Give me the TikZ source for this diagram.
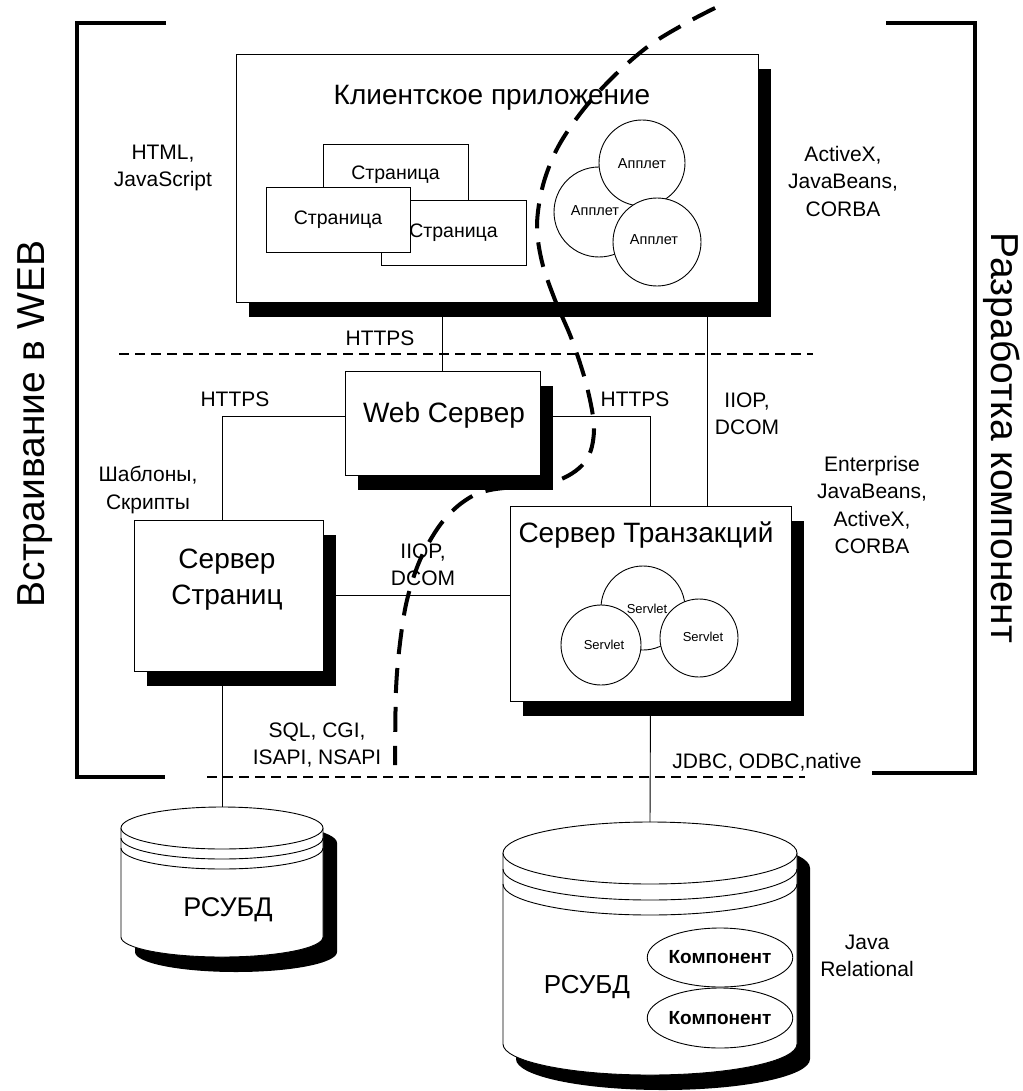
\documentclass[tikz,border=0pt]{standalone}
\usepackage{fontspec}
\setmainfont{Liberation Sans}
\usetikzlibrary{shadows,shapes.geometric}

\begin{document}
\begin{tikzpicture}[x=1pt,y=-1pt,
  thin/.style={line width=0.9pt},
  shadowed/.style={drop shadow={shadow xshift=13pt,shadow yshift=-15pt,fill=black,opacity=1}},
  box/.style={draw,fill=white,thin,shadowed,inner sep=0pt},
  pagebox/.style={draw,fill=white,thin,inner sep=0pt,minimum width=145pt,minimum height=65pt,
    font=\fontsize{19.5}{22}\selectfont},
  bubble/.style={circle,draw,fill=white,thin,inner sep=0pt},
  comp/.style={ellipse,draw,fill=white,thin,inner sep=0pt,minimum width=140pt,minimum height=59pt},
  lbl/.style={font=\fontsize{21}{27.5}\selectfont,align=center,inner sep=0pt},
  ttl/.style={font=\fontsize{28}{36}\selectfont,align=center,inner sep=0pt},
  tiny/.style={font=\fontsize{14.5}{16}\selectfont,inner sep=0pt},
  micro/.style={font=\fontsize{13}{15}\selectfont,inner sep=0pt},
  side/.style={font=\fontsize{39}{44}\selectfont,inner sep=0pt},
  bracket/.style={line width=4pt},
  zone/.style={line width=2pt,dash pattern=on 10pt off 6pt},
  border/.style={line width=4pt,dash pattern=on 25pt off 14pt,line cap=butt},
]
\useasboundingbox (0,0) rectangle (1022,1091);

% brackets of the two groups
\draw[bracket] (166,23) -- (77,23) -- (77,777) -- (165,777);
\draw[bracket] (886,23) -- (975,23) -- (975,773) -- (872,773);
\node[side,rotate=90] (lside) at (35,424) {Встраивание в WEB};
\node[side,rotate=-90] (rside) at (1002,438) {Разработка компонент};

% tier separators
\draw[zone] (119,354) -- (813,354);
\draw[zone] (207,777) -- (805,777);

% client application
\node[box,minimum width=522pt,minimum height=248pt] (client) at (497,178) {};
\node[ttl] (clientT) at (492,98) {Клиентское приложение};
\node[pagebox,minimum height=62pt] (pg1) at (395.5,175) {Страница};
\node[pagebox] (pg3) at (453.5,232.5) {Страница};
\node[pagebox,minimum width=144pt] (pg2) at (338,219.5) {Страница};
\node[bubble,minimum size=90pt] (ap2) at (599,212) {};
\node[bubble,minimum size=86pt] (ap1) at (642,163) {};
\node[bubble,minimum size=88pt] (ap3) at (657,242) {};
\node[tiny] at ([xshift=-4pt,yshift=1pt]ap2.center) {Апплет};
\node[tiny] at ([yshift=-1pt]ap1.center) {Апплет};
\node[tiny] at ([xshift=-3pt,yshift=2pt]ap3.center) {Апплет};

% servers
\node[box,minimum width=195pt,minimum height=104pt] (websrv) at (442.5,423) {};
\node[ttl] (websrvT) at (444,415) {Web Сервер};
\node[box,minimum width=189pt,minimum height=151pt] (pgsrv) at (228.5,595.5) {};
\node[ttl] (pgsrvT) at (227,580) {Сервер\\Страниц};
\node[box,minimum width=281pt,minimum height=195pt] (trsrv) at (650.5,603.5) {};
\node[ttl] (trsrvT) at (646,535) {Сервер Транзакций};
\node[bubble,minimum size=84pt] (sv1) at (643,608) {};
\node[bubble,minimum size=80pt] (sv2) at (601,645) {};
\node[bubble,minimum size=78pt] (sv3) at (699,638) {};
\node[micro] at ([xshift=4pt,yshift=-1pt]sv1.center) {Servlet};
\node[micro] at ([xshift=3pt]sv2.center) {Servlet};
\node[micro] at ([xshift=4pt,yshift=1pt]sv3.center) {Servlet};

% databases
\coordinate (db1top) at (222,807);
\fill[black,shift={(14,15)}] (121,828) -- (121,937)
  arc[start angle=180,end angle=0,x radius=101,y radius=20] -- (323,828)
  arc[start angle=0,end angle=-180,x radius=101,y radius=21] -- cycle;
\draw[thin,fill=white] (121,828) -- (121,937)
  arc[start angle=180,end angle=0,x radius=101,y radius=20] -- (323,828);
\draw[thin,fill=white] (222,828) ellipse[x radius=101,y radius=21];
\draw[thin] (121,838) arc[start angle=180,end angle=0,x radius=101,y radius=21];
\draw[thin] (121,848) arc[start angle=180,end angle=0,x radius=101,y radius=21];
\node[ttl,font=\fontsize{27}{30}\selectfont] (db1) at (228,910) {РСУБД};

\coordinate (db2top) at (650,822);
\fill[black,shift={(13,15)}] (503,853) -- (503,1044)
  arc[start angle=180,end angle=0,x radius=147,y radius=31] -- (797,853)
  arc[start angle=0,end angle=-180,x radius=147,y radius=31] -- cycle;
\draw[thin,fill=white] (503,853) -- (503,1044)
  arc[start angle=180,end angle=0,x radius=147,y radius=31] -- (797,853);
\draw[thin,fill=white] (650,853) ellipse[x radius=147,y radius=31];
\draw[thin] (503,869) arc[start angle=180,end angle=0,x radius=147,y radius=31];
\draw[thin] (503,884) arc[start angle=180,end angle=0,x radius=147,y radius=31];
\node[ttl,font=\fontsize{26}{30}\selectfont] (db2) at (587,987) {РСУБД};
\node[comp,font=\bfseries\fontsize{19}{22}\selectfont] (cmp1) at (720,957.5) {Компонент};
\node[comp,minimum height=60pt,font=\bfseries\fontsize{19}{22}\selectfont] (cmp2) at (720,1018) {Компонент};

% connectors
\path ([xshift=210pt]client.south) coordinate (clr)
      ([yshift=7pt]websrv.west) coordinate (wsw)
      ([yshift=7pt]websrv.east) coordinate (wse)
      ([xshift=-6.5pt]pgsrv.north) coordinate (pgn);
\draw[thin] (websrv.north |- client.south) -- (websrv.north);
\draw[thin] (clr) -- (clr |- trsrv.north);
\draw[thin] (wsw) -| (pgn);
\draw[thin] (wse) -| (trsrv.north);
\draw[thin] (pgsrv.east) -- (pgsrv.east -| trsrv.west);
\draw[thin] (db1top |- pgsrv.south) -- (db1top);
\draw[thin] (trsrv.south) -- (db2top);

% protocol and technology labels
\node[lbl] (l1) at (163,168) {HTML,\\JavaScript};
\node[lbl] (l2) at (843,181) {ActiveX,\\JavaBeans,\\CORBA};
\node[lbl] (l3) at (380,338) {HTTPS};
\node[lbl] (l4) at (235,399) {HTTPS};
\node[lbl] (l5) at (635,399) {HTTPS};
\node[lbl] (l6) at (747,414) {IIOP,\\DCOM};
\node[lbl] (l7) at (872,505) {Enterprise\\JavaBeans,\\ActiveX,\\CORBA};
\node[lbl] (l8) at (148,490) {Шаблоны,\\Скрипты};
\node[lbl] (l9) at (423,565) {IIOP,\\DCOM};
\node[lbl] (l10) at (317,745) {SQL, CGI,\\ISAPI, NSAPI};
\node[lbl] (l11) at (767,762) {JDBC, ODBC,native};
\node[lbl] (l12) at (867,956) {Java\\Relational};

% boundary of the component world
\draw[border] plot[smooth,tension=0.55] coordinates {
  (715,8) (688,22) (650,45) (615,75) (583,110) (558,147) (543,185)
  (537,225) (542,262) (555,300) (572,340) (587,387) (594,430)
  (585,462) (553,482) (490,490) (463,502) (440,525) (420,560)
  (407,600) (400,643) (396,690) (395,765)};
\end{tikzpicture}
\end{document}
